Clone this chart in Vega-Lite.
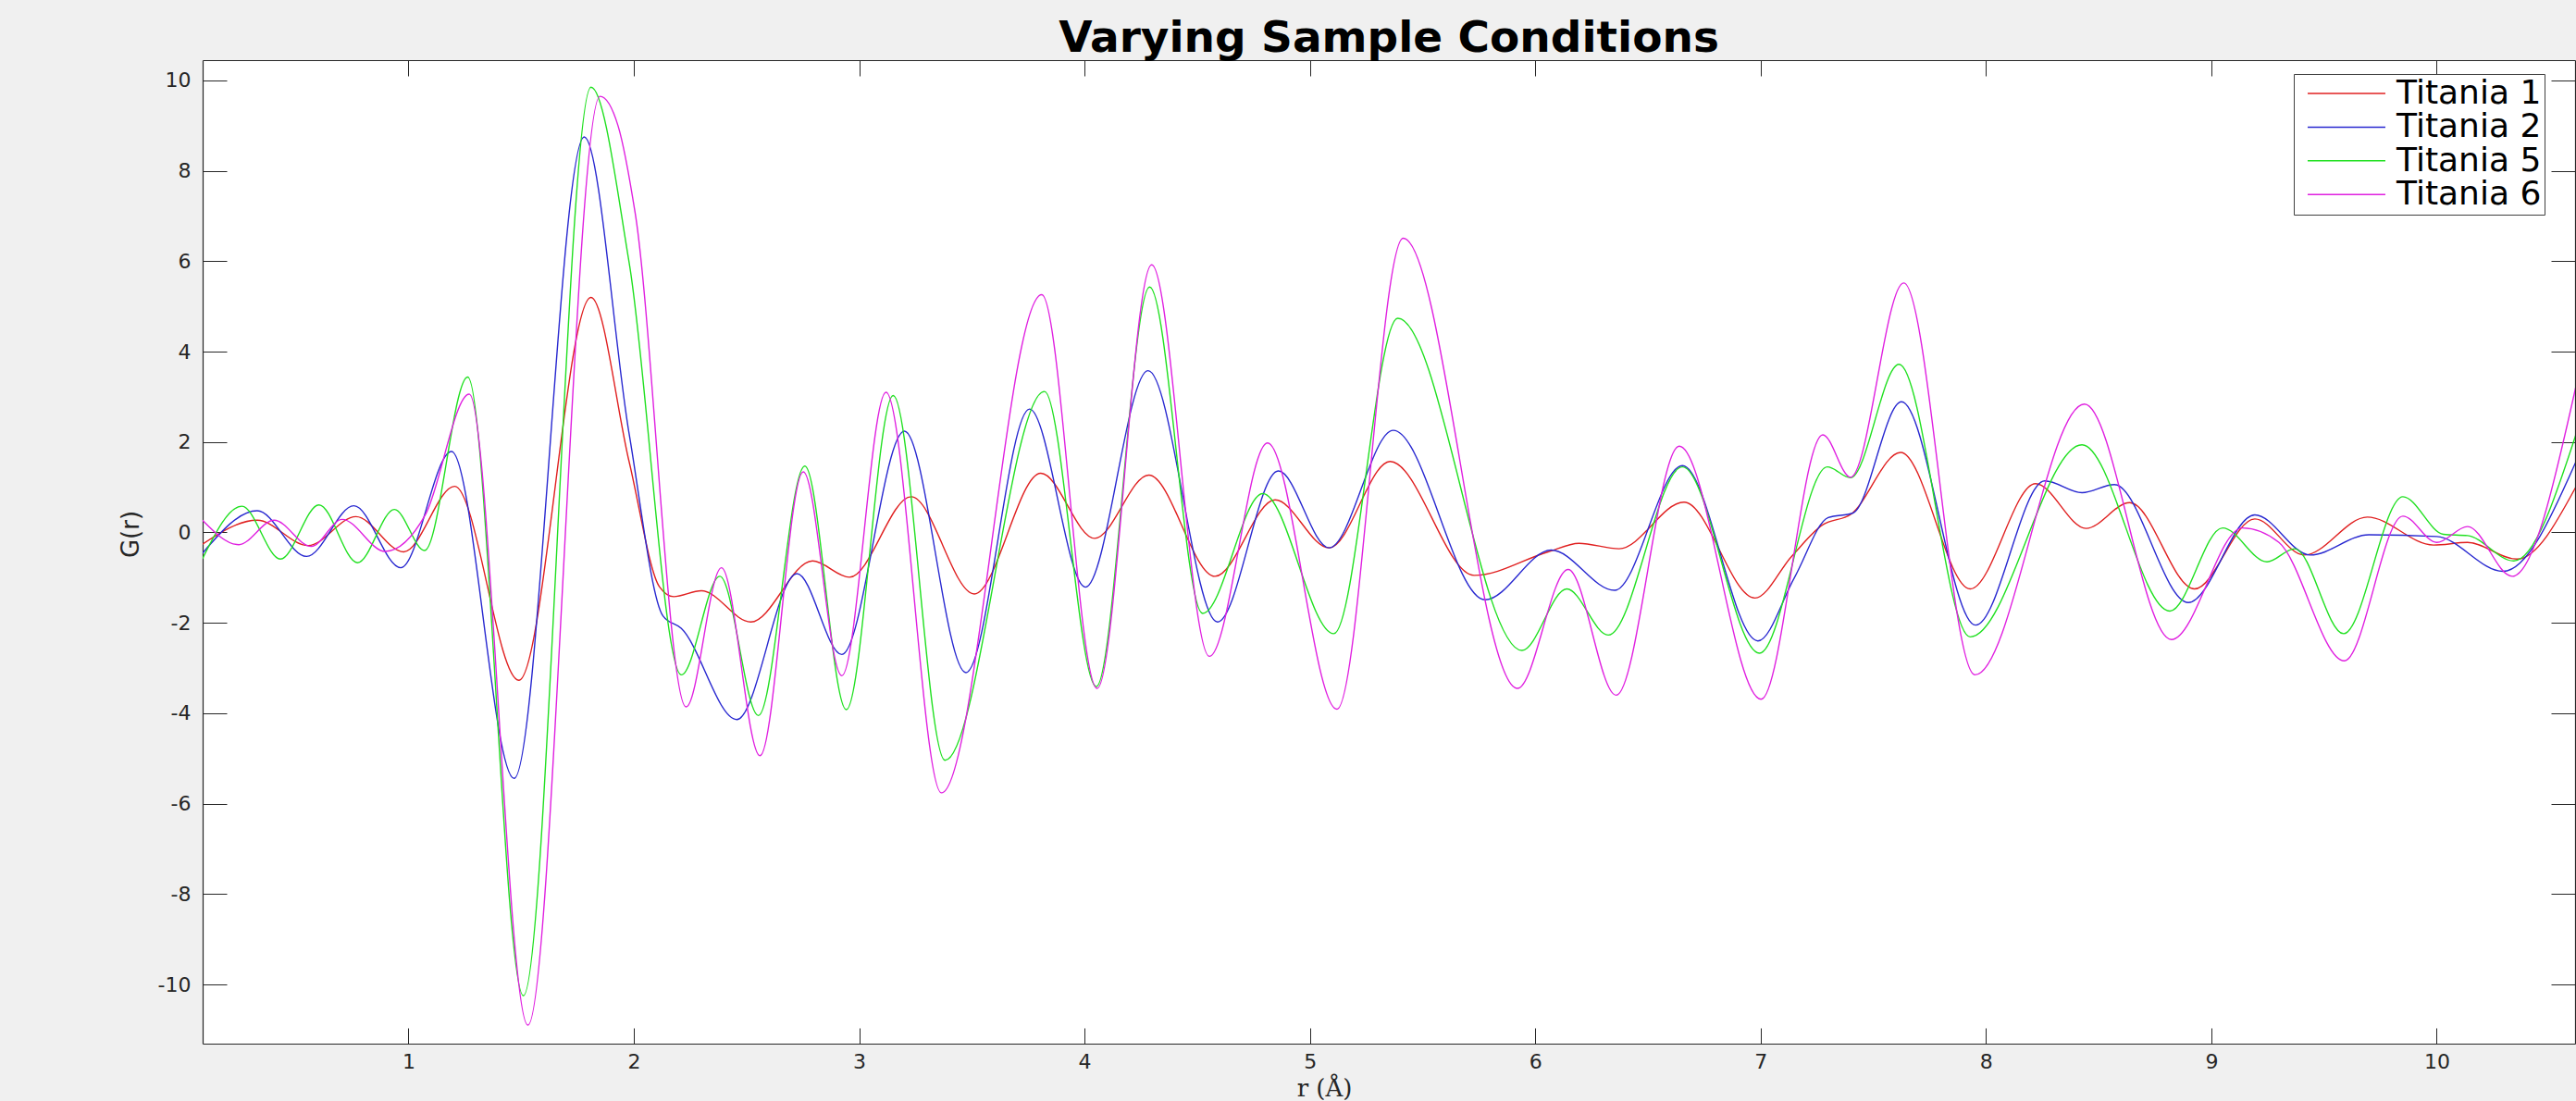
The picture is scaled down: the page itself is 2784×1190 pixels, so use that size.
{
  "$schema": "https://vega.github.io/schema/vega-lite/v6.json",
  "autosize": {"type": "none"},
  "width": 2564,
  "height": 1063,
  "padding": {"left": 219, "top": 65, "right": 1, "bottom": 62},
  "background": "#f0f0f0",
  "config": {"view": {"fill": "white", "stroke": null}, "font": "DejaVu Sans"},
  "title": {"text": "Varying Sample Conditions", "font": "DejaVu Sans", "fontSize": 47, "fontWeight": "bold", "color": "black", "anchor": "middle", "baseline": "alphabetic", "offset": -38, "frame": "group"},
  "data": {"values": [
    {"s":"Titania 1","r":0.086,"G":-0.26},{"s":"Titania 1","r":0.329,"G":0.27},{"s":"Titania 1","r":0.555,"G":-0.29},{"s":"Titania 1","r":0.767,"G":0.35},{"s":"Titania 1","r":0.979,"G":-0.43},{"s":"Titania 1","r":1.205,"G":1.02},{"s":"Titania 1","r":1.49,"G":-3.27},{"s":"Titania 1","r":1.81,"G":5.2},{"s":"Titania 1","r":1.98,"G":1.55},{"s":"Titania 1","r":2.115,"G":-1.21},{"s":"Titania 1","r":2.177,"G":-1.42},{"s":"Titania 1","r":2.3,"G":-1.29},{"s":"Titania 1","r":2.519,"G":-1.98},{"s":"Titania 1","r":2.793,"G":-0.63},{"s":"Titania 1","r":2.957,"G":-0.99},{"s":"Titania 1","r":3.231,"G":0.79},{"s":"Titania 1","r":3.511,"G":-1.36},{"s":"Titania 1","r":3.806,"G":1.31},{"s":"Titania 1","r":4.045,"G":-0.13},{"s":"Titania 1","r":4.285,"G":1.27},{"s":"Titania 1","r":4.579,"G":-0.97},{"s":"Titania 1","r":4.846,"G":0.72},{"s":"Titania 1","r":5.085,"G":-0.34},{"s":"Titania 1","r":5.356,"G":1.57},{"s":"Titania 1","r":5.729,"G":-0.95},{"s":"Titania 1","r":6.057,"G":-0.43},{"s":"Titania 1","r":6.194,"G":-0.24},{"s":"Titania 1","r":6.372,"G":-0.36},{"s":"Titania 1","r":6.66,"G":0.67},{"s":"Titania 1","r":6.975,"G":-1.45},{"s":"Titania 1","r":7.139,"G":-0.52},{"s":"Titania 1","r":7.276,"G":0.17},{"s":"Titania 1","r":7.4,"G":0.4},{"s":"Titania 1","r":7.621,"G":1.77},{"s":"Titania 1","r":7.93,"G":-1.25},{"s":"Titania 1","r":8.22,"G":1.08},{"s":"Titania 1","r":8.444,"G":0.09},{"s":"Titania 1","r":8.638,"G":0.66},{"s":"Titania 1","r":8.925,"G":-1.25},{"s":"Titania 1","r":9.193,"G":0.3},{"s":"Titania 1","r":9.412,"G":-0.5},{"s":"Titania 1","r":9.692,"G":0.34},{"s":"Titania 1","r":9.986,"G":-0.28},{"s":"Titania 1","r":10.137,"G":-0.22},{"s":"Titania 1","r":10.356,"G":-0.59},{"s":"Titania 1","r":10.62,"G":1.03},

    {"s":"Titania 2","r":0.086,"G":-0.46},{"s":"Titania 2","r":0.329,"G":0.48},{"s":"Titania 2","r":0.548,"G":-0.53},{"s":"Titania 2","r":0.758,"G":0.59},{"s":"Titania 2","r":0.966,"G":-0.78},{"s":"Titania 2","r":1.191,"G":1.79},{"s":"Titania 2","r":1.469,"G":-5.44},{"s":"Titania 2","r":1.78,"G":8.75},{"s":"Titania 2","r":1.98,"G":2.16},{"s":"Titania 2","r":2.13,"G":-1.85},{"s":"Titania 2","r":2.21,"G":-2.12},{"s":"Titania 2","r":2.457,"G":-4.14},{"s":"Titania 2","r":2.724,"G":-0.91},{"s":"Titania 2","r":2.923,"G":-2.7},{"s":"Titania 2","r":3.201,"G":2.24},{"s":"Titania 2","r":3.474,"G":-3.1},{"s":"Titania 2","r":3.756,"G":2.73},{"s":"Titania 2","r":4.004,"G":-1.21},{"s":"Titania 2","r":4.282,"G":3.58},{"s":"Titania 2","r":4.59,"G":-1.98},{"s":"Titania 2","r":4.86,"G":1.36},{"s":"Titania 2","r":5.085,"G":-0.34},{"s":"Titania 2","r":5.37,"G":2.26},{"s":"Titania 2","r":5.777,"G":-1.49},{"s":"Titania 2","r":6.071,"G":-0.39},{"s":"Titania 2","r":6.352,"G":-1.28},{"s":"Titania 2","r":6.653,"G":1.48},{"s":"Titania 2","r":6.988,"G":-2.4},{"s":"Titania 2","r":7.15,"G":-1.0},{"s":"Titania 2","r":7.3,"G":0.33},{"s":"Titania 2","r":7.41,"G":0.43},{"s":"Titania 2","r":7.625,"G":2.89},{"s":"Titania 2","r":7.954,"G":-2.05},{"s":"Titania 2","r":8.261,"G":1.14},{"s":"Titania 2","r":8.426,"G":0.88},{"s":"Titania 2","r":8.57,"G":1.06},{"s":"Titania 2","r":8.898,"G":-1.55},{"s":"Titania 2","r":9.193,"G":0.39},{"s":"Titania 2","r":9.439,"G":-0.5},{"s":"Titania 2","r":9.699,"G":-0.05},{"s":"Titania 2","r":10.0,"G":-0.09},{"s":"Titania 2","r":10.294,"G":-0.86},{"s":"Titania 2","r":10.62,"G":1.59},

    {"s":"Titania 5","r":0.086,"G":-0.58},{"s":"Titania 5","r":0.261,"G":0.58},{"s":"Titania 5","r":0.432,"G":-0.59},{"s":"Titania 5","r":0.603,"G":0.61},{"s":"Titania 5","r":0.774,"G":-0.67},{"s":"Titania 5","r":0.938,"G":0.51},{"s":"Titania 5","r":1.072,"G":-0.4},{"s":"Titania 5","r":1.263,"G":3.44},{"s":"Titania 5","r":1.51,"G":-10.25},{"s":"Titania 5","r":1.81,"G":9.85},{"s":"Titania 5","r":1.98,"G":5.95},{"s":"Titania 5","r":2.211,"G":-3.15},{"s":"Titania 5","r":2.382,"G":-0.97},{"s":"Titania 5","r":2.553,"G":-4.05},{"s":"Titania 5","r":2.759,"G":1.47},{"s":"Titania 5","r":2.943,"G":-3.92},{"s":"Titania 5","r":3.151,"G":3.03},{"s":"Titania 5","r":3.381,"G":-5.04},{"s":"Titania 5","r":3.822,"G":3.12},{"s":"Titania 5","r":4.052,"G":-3.41},{"s":"Titania 5","r":4.289,"G":5.43},{"s":"Titania 5","r":4.524,"G":-1.79},{"s":"Titania 5","r":4.791,"G":0.86},{"s":"Titania 5","r":5.106,"G":-2.24},{"s":"Titania 5","r":5.39,"G":4.74},{"s":"Titania 5","r":5.941,"G":-2.61},{"s":"Titania 5","r":6.14,"G":-1.25},{"s":"Titania 5","r":6.324,"G":-2.27},{"s":"Titania 5","r":6.653,"G":1.45},{"s":"Titania 5","r":6.995,"G":-2.67},{"s":"Titania 5","r":7.296,"G":1.45},{"s":"Titania 5","r":7.399,"G":1.21},{"s":"Titania 5","r":7.614,"G":3.72},{"s":"Titania 5","r":7.93,"G":-2.31},{"s":"Titania 5","r":8.426,"G":1.94},{"s":"Titania 5","r":8.816,"G":-1.74},{"s":"Titania 5","r":9.05,"G":0.1},{"s":"Titania 5","r":9.247,"G":-0.65},{"s":"Titania 5","r":9.37,"G":-0.36},{"s":"Titania 5","r":9.587,"G":-2.24},{"s":"Titania 5","r":9.85,"G":0.79},{"s":"Titania 5","r":10.03,"G":-0.04},{"s":"Titania 5","r":10.137,"G":-0.07},{"s":"Titania 5","r":10.342,"G":-0.63},{"s":"Titania 5","r":10.62,"G":2.2},

    {"s":"Titania 6","r":0.086,"G":0.27},{"s":"Titania 6","r":0.247,"G":-0.27},{"s":"Titania 6","r":0.404,"G":0.27},{"s":"Titania 6","r":0.569,"G":-0.31},{"s":"Titania 6","r":0.706,"G":0.29},{"s":"Titania 6","r":0.897,"G":-0.42},{"s":"Titania 6","r":1.075,"G":0.39},{"s":"Titania 6","r":1.27,"G":3.06},{"s":"Titania 6","r":1.53,"G":-10.9},{"s":"Titania 6","r":1.85,"G":9.65},{"s":"Titania 6","r":1.93,"G":9.0},{"s":"Titania 6","r":2.006,"G":7.07},{"s":"Titania 6","r":2.232,"G":-3.86},{"s":"Titania 6","r":2.389,"G":-0.78},{"s":"Titania 6","r":2.56,"G":-4.94},{"s":"Titania 6","r":2.752,"G":1.34},{"s":"Titania 6","r":2.923,"G":-3.17},{"s":"Titania 6","r":3.119,"G":3.1},{"s":"Titania 6","r":3.365,"G":-5.76},{"s":"Titania 6","r":3.81,"G":5.26},{"s":"Titania 6","r":4.056,"G":-3.45},{"s":"Titania 6","r":4.298,"G":5.92},{"s":"Titania 6","r":4.554,"G":-2.74},{"s":"Titania 6","r":4.812,"G":1.98},{"s":"Titania 6","r":5.12,"G":-3.91},{"s":"Titania 6","r":5.414,"G":6.51},{"s":"Titania 6","r":5.921,"G":-3.45},{"s":"Titania 6","r":6.146,"G":-0.82},{"s":"Titania 6","r":6.359,"G":-3.6},{"s":"Titania 6","r":6.639,"G":1.91},{"s":"Titania 6","r":7.002,"G":-3.69},{"s":"Titania 6","r":7.276,"G":2.16},{"s":"Titania 6","r":7.399,"G":1.22},{"s":"Titania 6","r":7.635,"G":5.52},{"s":"Titania 6","r":7.951,"G":-3.15},{"s":"Titania 6","r":8.437,"G":2.84},{"s":"Titania 6","r":8.823,"G":-2.37},{"s":"Titania 6","r":9.138,"G":0.1},{"s":"Titania 6","r":9.3,"G":-0.22},{"s":"Titania 6","r":9.59,"G":-2.84},{"s":"Titania 6","r":9.85,"G":0.36},{"s":"Titania 6","r":10.0,"G":-0.22},{"s":"Titania 6","r":10.137,"G":0.13},{"s":"Titania 6","r":10.335,"G":-0.97},{"s":"Titania 6","r":10.62,"G":3.28}
  ]},
  "layer": [
    {
      "mark": {"type": "line", "strokeWidth": 1.4, "clip": true, "interpolate": "monotone"},
      "encoding": {
        "x": {"field": "r", "type": "quantitative",
          "scale": {"domain": [0.0868, 10.614], "nice": false, "zero": false},
          "axis": {"orient": "bottom", "values": [1,2,3,4,5,6,7,8,9,10], "grid": false,
            "tickSize": -17, "tickWidth": 1, "tickColor": "#262626", "domainColor": "#262626", "domainWidth": 1.2,
            "labelFontSize": 22, "labelFont": "DejaVu Sans", "labelColor": "#262626", "labelPadding": 26, "labelFlush": false, "labelOverlap": false,
            "title": "r (Å)", "titleFont": "DejaVu Serif", "titleFontSize": 26, "titleFontWeight": "normal", "titleColor": "#262626",
            "titleX": 1212, "titleY": 56, "titleBaseline": "alphabetic"}},
        "y": {"field": "G", "type": "quantitative",
          "scale": {"domain": [-11.31, 10.45], "nice": false, "zero": false},
          "axis": {"orient": "left", "values": [-10,-8,-6,-4,-2,0,2,4,6,8,10], "grid": false,
            "tickSize": -26, "tickWidth": 1, "tickColor": "#262626", "domainColor": "#262626", "domainWidth": 1.2,
            "labelFontSize": 22, "labelFont": "DejaVu Sans", "labelColor": "#262626", "labelPadding": 39, "labelFlush": false, "labelOverlap": false,
            "labelExpr": "datum.value < 0 ? '-' + (-datum.value) : '' + datum.value",
            "title": "G(r)", "titleFont": "DejaVu Sans", "titleFontSize": 26, "titleFontWeight": "normal", "titleColor": "#262626", "titlePadding": 16, "titleY": 512}},
        "color": {"field": "s", "type": "nominal",
          "scale": {"domain": ["Titania 1", "Titania 2", "Titania 5", "Titania 6"], "range": ["#e02020", "#2828d0", "#20e020", "#e020e0"]},
          "legend": {"orient": "none", "legendX": 2260, "legendY": 15, "title": null,
            "symbolType": "M-0.43,0H5.57", "symbolSize": 784, "symbolStrokeWidth": 1.5,
            "labelFontSize": 36, "labelFont": "DejaVu Sans", "labelColor": "black", "labelOffset": 72, "labelLimit": 500,
            "fillColor": "white", "strokeColor": "#404040", "padding": 3, "rowPadding": 0.4, "cornerRadius": 0}}
      }
    },
    {
      "mark": {"type": "line", "opacity": 0, "clip": true},
      "encoding": {
        "x": {"field": "r", "type": "quantitative",
          "axis": {"orient": "top", "values": [1,2,3,4,5,6,7,8,9,10], "grid": false, "labels": false, "title": null,
            "tickSize": -17, "tickWidth": 1, "tickColor": "#262626", "domainColor": "#262626", "domainWidth": 1.2}},
        "y": {"field": "G", "type": "quantitative",
          "axis": {"orient": "right", "values": [-10,-8,-6,-4,-2,0,2,4,6,8,10], "grid": false, "labels": false, "title": null,
            "tickSize": -26, "tickWidth": 1, "tickColor": "#262626", "domainColor": "#262626", "domainWidth": 1.2}},
        "detail": {"field": "s"}
      }
    }
  ],
  "resolve": {"axis": {"x": "independent", "y": "independent"}}
}
